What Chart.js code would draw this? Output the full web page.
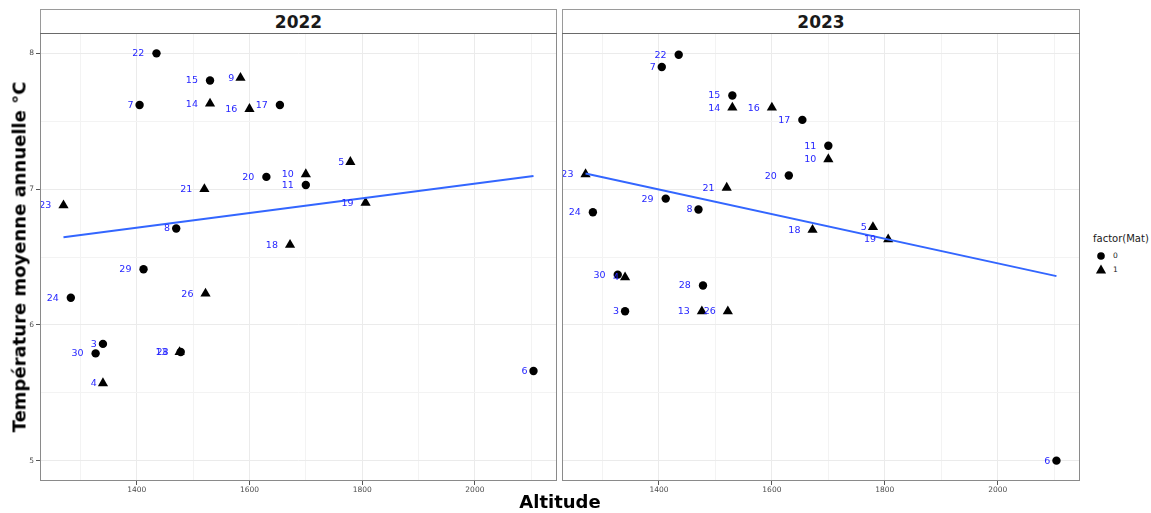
<!DOCTYPE html>
<html>
<head>
<meta charset="utf-8">
<script src="https://cdn.jsdelivr.net/npm/chart.js@4.4.1/dist/chart.umd.min.js"></script>
<style>
  html, body { margin: 0; padding: 0; background: #fff; }
  #fig { position: relative; width: 1151px; height: 513px; overflow: hidden; font-family: "DejaVu Sans", sans-serif; }
  #fig canvas { position: absolute; }
  .strip { position: absolute; top: 9px; height: 24px; box-sizing: border-box; border: 1px solid #9a9a9a; border-bottom: none;
           background: #fff; font-weight: bold; font-size: 17px; color: #1a1a1a; text-align: center; line-height: 24px; }
  .title { position: absolute; font-weight: bold; font-size: 18px; color: #000; white-space: nowrap; }
  .legtxt { position: absolute; color: #1a1a1a; white-space: nowrap; }
</style>
</head>
<body>
<div id="fig">
  <div class="strip" style="left:40px;width:517px;">2022</div>
  <div class="strip" style="left:562px;width:518px;">2023</div>
  <canvas id="p2022" width="557" height="464" style="left:0;top:33px;"></canvas>
  <canvas id="p2023" width="518" height="464" style="left:562px;top:33px;"></canvas>
  <div class="title" style="left:560px;top:501px;transform:translate(-50%,-50%);">Altitude</div>
  <div class="title" style="left:19px;top:256.5px;transform:translate(-50%,-50%) rotate(-90deg);">Température moyenne annuelle °C</div>
  <div class="legtxt" style="left:1093px;top:233px;font-size:10px;">factor(Mat)</div>
  <svg style="position:absolute;left:1094px;top:249px;" width="16" height="28">
    <circle cx="7" cy="7" r="3.8" fill="#000"></circle>
    <polygon points="7,15.6 12.1,24.4 1.9,24.4" fill="#000"></polygon>
  </svg>
  <div class="legtxt" style="left:1113px;top:251px;font-size:7.5px;">0</div>
  <div class="legtxt" style="left:1113px;top:265px;font-size:7.5px;">1</div>
</div>
<script>
// Sites, their altitude and Mat factor (0 = circle, 1 = triangle)
const siteIds   = [3, 4, 5, 6, 7, 8, 9, 10, 11, 13, 14, 15, 16, 17, 18, 19, 20, 21, 22, 23, 24, 26, 28, 29, 30];
const altitudes = [1340, 1340, 1779, 2104, 1405, 1470, 1584, 1700, 1700, 1476, 1530, 1530, 1600, 1654, 1672, 1806, 1630, 1520, 1435, 1270, 1283, 1522, 1478, 1412, 1327];
const matLevels = [0, 1, 1, 0, 0, 0, 1, 1, 0, 1, 1, 0, 1, 0, 1, 1, 0, 1, 0, 1, 0, 1, 0, 0, 0];

// Mean annual temperature (°C) per site and year
const temp2022 = [5.86, 5.57, 7.20, 5.66, 7.62, 6.71, 7.82, 7.11, 7.03, 5.80, 7.63, 7.80, 7.59, 7.62, 6.59, 6.90, 7.09, 7.00, 8.00, 6.88, 6.20, 6.23, 5.80, 6.41, 5.79];
const temp2023 = [6.10, 6.35, 6.72, 5.00, 7.90, 6.85, null, 7.22, 7.32, 6.10, 7.60, 7.69, 7.60, 7.51, 6.70, 6.63, 7.10, 7.01, 7.99, 7.11, 6.83, 6.10, 6.29, 6.93, 6.37];

// Linear trend endpoints per year
const trendAlt2022  = [1270, 2104];
const trendTemp2022 = [6.646, 7.096];
const trendAlt2023  = [1270, 2104];
const trendTemp2023 = [7.115, 6.359];

// Axis breaks
const xMajorTicks = [1400, 1600, 1800, 2000];
const xMinorTicks = [1300, 1500, 1700, 1900, 2100];
const yMajorTicks = [5, 6, 7, 8];
const yMinorTicks = [5.5, 6.5, 7.5];

// Shared limits with 5% padding on both sides
const allTemps = temp2022.concat(temp2023).filter(v => v !== null);
function padded(lo, hi) { const d = (hi - lo) * 0.05; return [lo - d, hi + d]; }
const [xMin, xMax] = padded(Math.min(...altitudes), Math.max(...altitudes));
const [yMin, yMax] = padded(Math.min(...allTemps), Math.max(...allTemps));

const FONT = '"DejaVu Sans", sans-serif';

function pointsFor(temps, level) {
  const out = [];
  siteIds.forEach((id, i) => {
    if (temps[i] !== null && matLevels[i] === level) out.push({ x: altitudes[i], y: temps[i], id: id });
  });
  return out;
}

// Keep the plotting area flush with the axis boxes (no label overhang padding)
function noPad(s) { s.paddingLeft = 0; s.paddingRight = 0; s.paddingTop = 0; s.paddingBottom = 0; }

const siteLabels = {
  id: 'siteLabels',
  afterDatasetsDraw(chart) {
    const ctx = chart.ctx, area = chart.chartArea;
    ctx.save();
    ctx.beginPath();
    ctx.rect(area.left, area.top, area.right - area.left, area.bottom - area.top);
    ctx.clip();
    ctx.font = '9.5px ' + FONT;
    ctx.fillStyle = '#2626ff';
    ctx.textAlign = 'left';
    ctx.textBaseline = 'middle';
    chart.data.datasets.forEach((ds, di) => {
      if (ds.type === 'line') return;
      const meta = chart.getDatasetMeta(di);
      meta.data.forEach((el, k) => {
        const txt = String(ds.data[k].id);
        const w = ctx.measureText(txt).width;
        ctx.fillText(txt, el.x - 2 * w, el.y + 0.5);
      });
    });
    ctx.restore();
  }
};

const panelBorder = {
  id: 'panelBorder',
  afterDraw(chart) {
    const ctx = chart.ctx, a = chart.chartArea;
    ctx.save();
    ctx.strokeStyle = '#8a8a8a';
    ctx.lineWidth = 1;
    ctx.strokeRect(a.left + 0.5, a.top + 0.5, a.right - a.left - 1, a.bottom - a.top - 1);
    ctx.strokeStyle = '#6a6a6a';
    ctx.beginPath();
    ctx.moveTo(a.left, a.top + 0.5);
    ctx.lineTo(a.right, a.top + 0.5);
    ctx.stroke();
    ctx.restore();
  }
};

function makePanel(canvasId, temps, trendX, trendY, showY) {
  const trend = trendX.map((x, i) => ({ x: x, y: trendY[i] }));
  return new Chart(document.getElementById(canvasId), {
    type: 'scatter',
    data: {
      datasets: [
        { label: '0', data: pointsFor(temps, 0), pointStyle: 'circle', pointRadius: 4.2,
          backgroundColor: '#000', borderWidth: 0, order: 2 },
        { label: '1', data: pointsFor(temps, 1), pointStyle: 'triangle', pointRadius: 5.9,
          backgroundColor: '#000', borderWidth: 0, order: 2 },
        { type: 'line', label: 'trend', data: trend, borderColor: '#3366ff', borderWidth: 2,
          pointRadius: 0, fill: false, order: 1 }
      ]
    },
    options: {
      responsive: false,
      animation: false,
      events: [],
      layout: { padding: 0, autoPadding: false },
      plugins: { legend: { display: false }, tooltip: { enabled: false } },
      scales: {
        x: {
          type: 'linear', min: xMin, max: xMax,
          afterBuildTicks: s => { s.ticks = xMinorTicks.concat(xMajorTicks).sort((a, b) => a - b).map(v => ({ value: v })); },
          afterFit: s => { s.height = 16; noPad(s); },
          border: { display: false },
          grid: {
            color: c => xMajorTicks.includes(c.tick.value) ? '#ebebeb' : '#f3f3f3',
            lineWidth: 1,
            tickColor: c => xMajorTicks.includes(c.tick.value) ? '#555' : 'rgba(0,0,0,0)',
            tickLength: 4, drawTicks: true
          },
          ticks: {
            autoSkip: false, maxRotation: 0, padding: 1,
            color: '#4d4d4d', font: { family: FONT, size: 7.5 },
            callback: v => xMajorTicks.includes(v) ? String(v) : ''
          }
        },
        y: {
          type: 'linear', min: yMin, max: yMax,
          afterBuildTicks: s => { s.ticks = yMinorTicks.concat(yMajorTicks).sort((a, b) => a - b).map(v => ({ value: v })); },
          afterFit: s => { s.width = showY ? 40 : 0; noPad(s); },
          border: { display: false },
          grid: {
            color: c => yMajorTicks.includes(c.tick.value) ? '#ebebeb' : '#f3f3f3',
            lineWidth: 1,
            tickColor: c => (showY && yMajorTicks.includes(c.tick.value)) ? '#555' : 'rgba(0,0,0,0)',
            tickLength: 4, drawTicks: showY
          },
          ticks: {
            display: showY, autoSkip: false, padding: 2,
            color: '#4d4d4d', font: { family: FONT, size: 7.5 },
            callback: v => yMajorTicks.includes(v) ? String(v) : ''
          }
        }
      }
    },
    plugins: [siteLabels, panelBorder]
  });
}

makePanel('p2022', temp2022, trendAlt2022, trendTemp2022, true);
makePanel('p2023', temp2023, trendAlt2023, trendTemp2023, false);
</script>
</body>
</html>
